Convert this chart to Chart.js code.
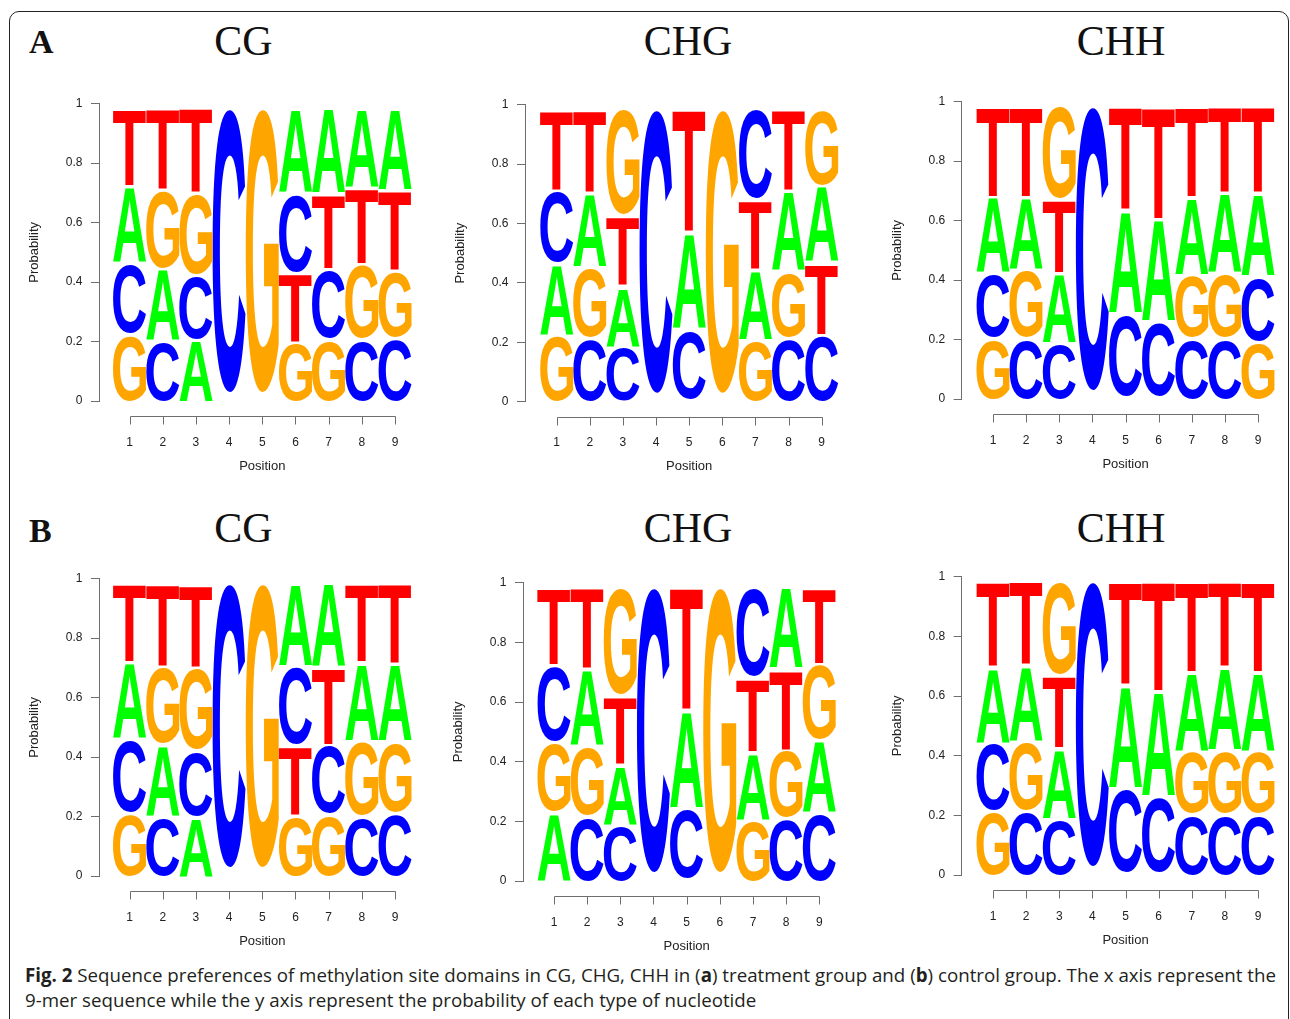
<!DOCTYPE html>
<html>
<head>
<meta charset="utf-8">
<script src="https://cdn.jsdelivr.net/npm/chart.js@4.4.1/dist/chart.umd.min.js"></script>
<style>
  body { margin: 0; background: #fff; }
  #page { position: relative; width: 1290px; height: 1019px; overflow: hidden; background: #fff; }
  #frame { position: absolute; left: 9px; top: 11px; width: 1280px; height: 1040px; border: 1.4px solid #222;
           border-radius: 10px; box-sizing: border-box; }
  .tag { position: absolute; font: bold 34px 'Liberation Serif'; color: #111; line-height: 1; }
  .ctx { position: absolute; font: 42px 'Liberation Serif'; color: #111; line-height: 1; white-space: nowrap;
         transform: translateX(-50%); }
  canvas { position: absolute; }
  .cap { position: absolute; left: 25px; font: 19px 'Open Sans'; color: #231f20; white-space: nowrap;
         line-height: 1; transform-origin: 0 0; }
</style>
</head>
<body>
<div id="page">
  <div id="frame"></div>
  <div class="tag" style="left:29px; top:24.5px">A</div>
  <div class="ctx" style="left:243.5px; top:20px">CG</div>
  <div class="ctx" style="left:688px; top:20px">CHG</div>
  <div class="ctx" style="left:1121px; top:20px">CHH</div>
  <div class="tag" style="left:29px; top:513.5px">B</div>
  <div class="ctx" style="left:243.5px; top:507px">CG</div>
  <div class="ctx" style="left:688px; top:507px">CHG</div>
  <div class="ctx" style="left:1121px; top:507px">CHH</div>
  <div class="cap" id="cap1" style="top:966px"><b>Fig. 2</b> Sequence preferences of methylation site domains in CG, CHG, CHH in (<b>a</b>) treatment group and (<b>b</b>) control group. The x axis represent the</div>
  <div class="cap" id="cap2" style="top:991px">9-mer sequence while the y axis represent the probability of each type of nucleotide</div>
</div>
<script>
// ---- data ----
const positions = [1, 2, 3, 4, 5, 6, 7, 8, 9];
const bases = ['A', 'C', 'G', 'T'];
const yTicks = [0, 0.2, 0.4, 0.6, 0.8, 1];
const yTickLabels = ['0', '0.2', '0.4', '0.6', '0.8', '1'];

// (a) treatment group, probability of each nucleotide per position
const trtCG_A = [0.260, 0.246, 0.211, 0, 0, 0.291, 0.293, 0.269, 0.279];
const trtCG_C = [0.240, 0.205, 0.219, 1, 0, 0.272, 0.239, 0.211, 0.218];
const trtCG_G = [0.232, 0.270, 0.278, 0, 1, 0.200, 0.211, 0.255, 0.228];
const trtCG_T = [0.268, 0.279, 0.292, 0, 0, 0.237, 0.257, 0.263, 0.274];

const trtCHG_A = [0.243, 0.255, 0.204, 0, 0.332, 0, 0.238, 0.277, 0.261];
const trtCHG_C = [0.248, 0.218, 0.188, 1, 0.240, 0, 0.311, 0.218, 0.231];
const trtCHG_G = [0.231, 0.243, 0.367, 0, 0, 1, 0.211, 0.226, 0.262];
const trtCHG_T = [0.278, 0.284, 0.241, 0, 0.428, 0, 0.240, 0.279, 0.246];

const trtCHH_A = [0.260, 0.248, 0.237, 0, 0.355, 0.354, 0.266, 0.275, 0.284];
const trtCHH_C = [0.219, 0.208, 0.191, 1, 0.286, 0.257, 0.208, 0.208, 0.221];
const trtCHH_G = [0.208, 0.231, 0.321, 0, 0, 0, 0.213, 0.219, 0.197];
const trtCHH_T = [0.313, 0.313, 0.251, 0, 0.359, 0.389, 0.313, 0.298, 0.298];

// (b) control group
const ctlCG_A = [0.262, 0.245, 0.204, 0, 0, 0.285, 0.288, 0.268, 0.266];
const ctlCG_C = [0.253, 0.204, 0.225, 1, 0, 0.268, 0.236, 0.204, 0.216];
const ctlCG_G = [0.216, 0.265, 0.284, 0, 1, 0.207, 0.211, 0.257, 0.243];
const ctlCG_T = [0.269, 0.286, 0.287, 0, 0, 0.240, 0.265, 0.271, 0.275];

const ctlCHG_A = [0.235, 0.263, 0.201, 0, 0.336, 0, 0.229, 0.278, 0.248];
const ctlCHG_C = [0.262, 0.221, 0.192, 1, 0.240, 0, 0.309, 0.215, 0.233];
const ctlCHG_G = [0.238, 0.238, 0.373, 0, 0, 1, 0.209, 0.231, 0.258];
const ctlCHG_T = [0.265, 0.278, 0.234, 0, 0.424, 0, 0.253, 0.276, 0.261];

const ctlCHH_A = [0.257, 0.256, 0.239, 0, 0.353, 0.361, 0.270, 0.284, 0.270];
const ctlCHH_C = [0.231, 0.218, 0.192, 1, 0.289, 0.260, 0.208, 0.208, 0.208];
const ctlCHH_G = [0.218, 0.239, 0.322, 0, 0, 0, 0.212, 0.214, 0.212];
const ctlCHH_T = [0.294, 0.287, 0.247, 0, 0.358, 0.379, 0.310, 0.294, 0.310];

// ---- styles / layout ----
const baseColors = { A: '#00ff00', C: '#0000ff', G: '#ffa500', T: '#ff0000' };
const LETTER_FONT = "bold 100px 'Liberation Sans'";
const AXIS_COLOR = '#6e6e6e';
const TEXT_COLOR = '#222';
const Y_AXIS_W = 72;
const X_AXIS_H = 80;
const PAD_T = 15;
const PAD_R = 24;

const panels = [
  { probs: { A: trtCG_A, C: trtCG_C, G: trtCG_G, T: trtCG_T }, axisX: 99, y1: 103, y0: 401, c1: 129.6, c9: 395 },
  { probs: { A: trtCHG_A, C: trtCHG_C, G: trtCHG_G, T: trtCHG_T }, axisX: 525, y1: 104.3, y0: 401.7, c1: 556.7, c9: 821.7 },
  { probs: { A: trtCHH_A, C: trtCHH_C, G: trtCHH_G, T: trtCHH_T }, axisX: 961.7, y1: 101, y0: 399, c1: 993, c9: 1258 },
  { probs: { A: ctlCG_A, C: ctlCG_C, G: ctlCG_G, T: ctlCG_T }, axisX: 99, y1: 578.3, y0: 876, c1: 129.6, c9: 395 },
  { probs: { A: ctlCHG_A, C: ctlCHG_C, G: ctlCHG_G, T: ctlCHG_T }, axisX: 523, y1: 582.3, y0: 881, c1: 554, c9: 819.3 },
  { probs: { A: ctlCHH_A, C: ctlCHH_C, G: ctlCHH_G, T: ctlCHH_T }, axisX: 961.7, y1: 576.7, y0: 875, c1: 993, c9: 1258 }
];

// seqLogo stacking: smallest at bottom, height 0.95*p, 0.01 gap after each letter
function logoBars(probs) {
  const out = { A: [], C: [], G: [], T: [] };
  positions.forEach((pos, j) => {
    const order = bases.slice().sort((a, b) => probs[a][j] - probs[b][j]);
    let ypos = 0;
    order.forEach(b => {
      const ht = 0.95 * probs[b][j];
      if (ht > 0) out[b].push({ x: pos, y: [ypos, ypos + ht] });
      ypos += ht + 0.01;
    });
  });
  return out;
}

const glyphCache = {};
function glyphBox(ctx, ch) {
  if (!glyphCache[ch]) {
    ctx.save();
    ctx.font = LETTER_FONT;
    const m = ctx.measureText(ch);
    ctx.restore();
    glyphCache[ch] = { l: m.actualBoundingBoxLeft, r: m.actualBoundingBoxRight,
                       a: m.actualBoundingBoxAscent, d: m.actualBoundingBoxDescent };
  }
  return glyphCache[ch];
}

// stretch each letter into its bar rectangle
const letterPlugin = {
  id: 'letters',
  afterDatasetsDraw(chart) {
    const ctx = chart.ctx;
    chart.data.datasets.forEach((ds, i) => {
      const meta = chart.getDatasetMeta(i);
      const g = glyphBox(ctx, ds.label);
      meta.data.forEach(el => {
        const { x, y, base, width } = el.getProps(['x', 'y', 'base', 'width'], true);
        const top = Math.min(y, base), h = Math.abs(base - y);
        if (h <= 0) return;
        ctx.save();
        ctx.translate(x - width / 2, top);
        ctx.scale(width / (g.l + g.r), h / (g.a + g.d));
        ctx.font = LETTER_FONT;
        ctx.fillStyle = ds.letterColor;
        ctx.textAlign = 'left';
        ctx.textBaseline = 'alphabetic';
        ctx.fillText(ds.label, g.l, g.a);
        ctx.restore();
      });
    });
  }
};

// R style detached x axis line with ticks
const rAxisPlugin = {
  id: 'rAxis',
  afterDraw(chart) {
    const xs = chart.scales.x, ys = chart.scales.y, ctx = chart.ctx;
    const yLine = Math.round(ys.getPixelForValue(0)) + 15.5;
    const xa = Math.round(xs.getPixelForValue(positions[0])) + 0.5;
    const xb = Math.round(xs.getPixelForValue(positions[positions.length - 1])) + 0.5;
    ctx.save();
    ctx.strokeStyle = AXIS_COLOR;
    ctx.lineWidth = 1;
    ctx.beginPath();
    ctx.moveTo(xa, yLine);
    ctx.lineTo(xb, yLine);
    positions.forEach(p => {
      const px = Math.round(xs.getPixelForValue(p)) + 0.5;
      ctx.moveTo(px, yLine);
      ctx.lineTo(px, yLine + 8);
    });
    ctx.stroke();
    ctx.restore();
  }
};

const page = document.getElementById('page');
panels.forEach(p => {
  const unit = (p.c9 - p.c1) / 8;
  const xmin = 1 - (p.c1 - p.axisX) / unit;
  const xmax = 10 - xmin;
  const leftF = p.axisX - Y_AXIS_W;
  const cl = Math.floor(leftF);
  const topF = p.y1 - PAD_T;
  const ct = Math.floor(topF);
  const rightPx = p.axisX + (xmax - xmin) * unit - cl;
  const w = Math.ceil(rightPx + PAD_R);
  const inner = p.y0 - ct + X_AXIS_H;
  const h = Math.ceil(inner);

  const cv = document.createElement('canvas');
  cv.width = w; cv.height = h;
  cv.style.left = cl + 'px'; cv.style.top = ct + 'px';
  cv.style.width = w + 'px'; cv.style.height = h + 'px';
  page.appendChild(cv);

  const bars = logoBars(p.probs);
  new Chart(cv, {
    type: 'bar',
    data: {
      datasets: bases.map(b => ({
        label: b,
        data: bars[b],
        letterColor: baseColors[b],
        backgroundColor: 'rgba(0,0,0,0)',
        borderWidth: 0,
        grouped: false,
        barPercentage: 1,
        categoryPercentage: 1
      }))
    },
    options: {
      responsive: false,
      animation: false,
      events: [],
      layout: { padding: { left: leftF - cl, top: PAD_T + (topF - ct), right: w - rightPx, bottom: h - inner } },
      plugins: { legend: { display: false }, tooltip: { enabled: false } },
      scales: {
        x: {
          type: 'linear', min: xmin, max: xmax, offset: false,
          afterBuildTicks: s => { s.ticks = positions.map(v => ({ value: v })); },
          afterFit: s => { s.height = X_AXIS_H; },
          grid: { display: false, drawTicks: false, offset: false },
          border: { display: false },
          ticks: { autoSkip: false, maxRotation: 0, callback: v => String(v), padding: 34,
                   font: { family: 'Liberation Sans', size: 12 }, color: TEXT_COLOR },
          title: { display: true, text: 'Position', color: TEXT_COLOR,
                   font: { family: 'Liberation Sans', size: 13 }, padding: { top: 0, bottom: 7.2 } }
        },
        y: {
          min: 0, max: 1,
          afterBuildTicks: s => { s.ticks = yTicks.map(v => ({ value: v })); },
          afterFit: s => { s.width = Y_AXIS_W; },
          grid: { drawOnChartArea: false, drawTicks: true, tickLength: 8, color: AXIS_COLOR },
          border: { display: true, color: AXIS_COLOR },
          ticks: { callback: (v, i) => yTickLabels[i], padding: 8.5,
                   font: { family: 'Liberation Sans', size: 12 }, color: TEXT_COLOR },
          title: { display: true, text: 'Probability', color: TEXT_COLOR,
                   font: { family: 'Liberation Sans', size: 13 }, padding: 0 }
        }
      }
    },
    plugins: [letterPlugin, rAxisPlugin]
  });
});

// fit caption lines to the printed width
const cap1 = document.getElementById('cap1'), cap2 = document.getElementById('cap2');
const k = 1251 / cap1.getBoundingClientRect().width;
cap1.style.transform = 'scaleX(' + k + ')';
cap2.style.transform = 'scaleX(' + k + ')';
</script>
</body>
</html>
